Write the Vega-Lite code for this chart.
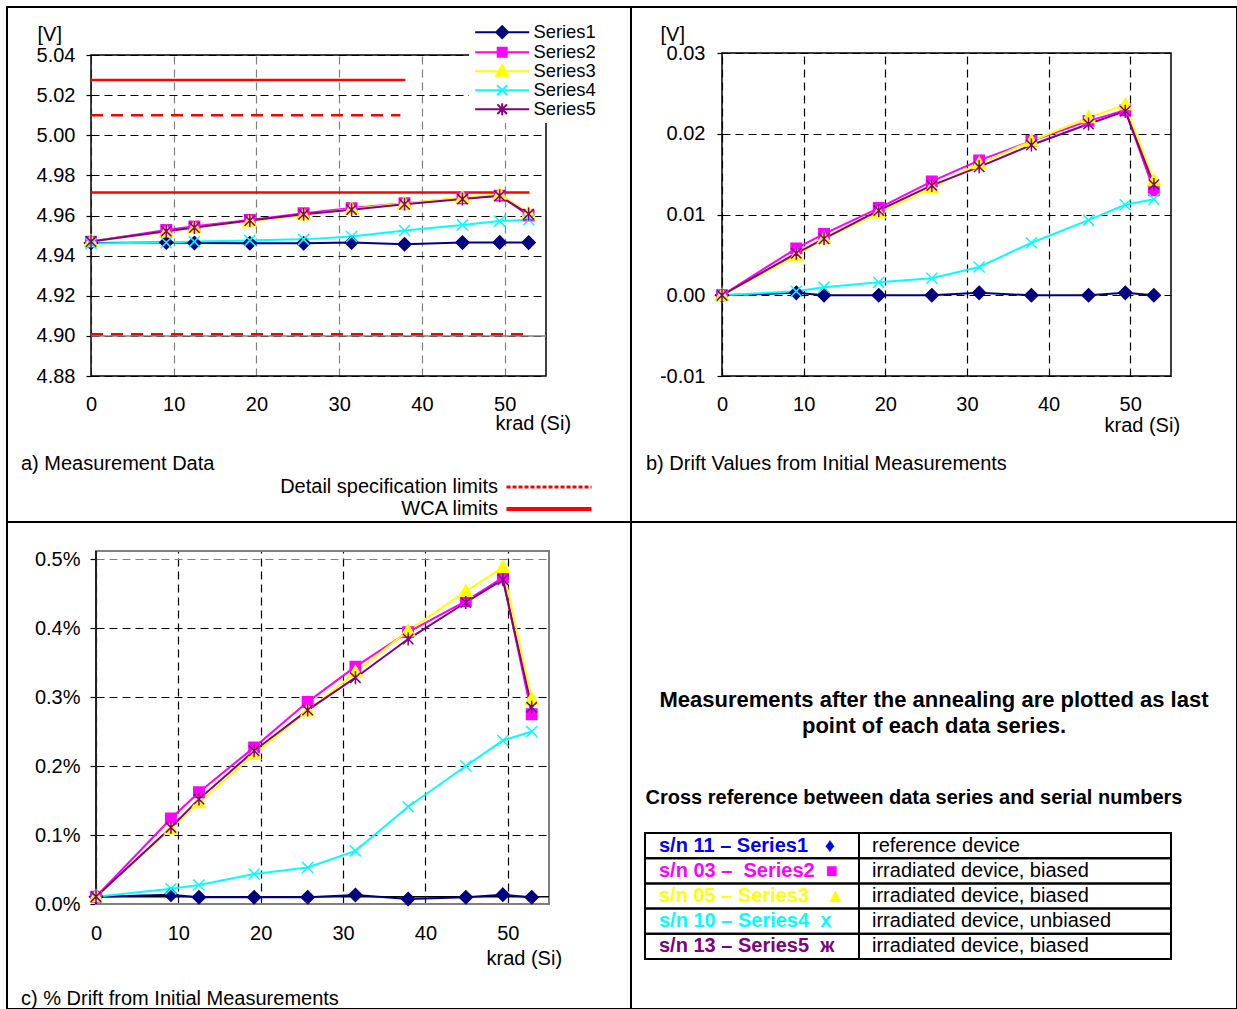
{
  "$schema": "https://vega.github.io/schema/vega-lite/v6.json",
  "padding": {"left": 6, "top": 6, "right": 0, "bottom": 0},
  "background": "white",
  "config": {
    "font": "Liberation Sans",
    "view": {"stroke": "black", "strokeWidth": 2},
    "axis": {"labelFont": "Liberation Sans", "labelFontSize": 20, "labelColor": "black", "titleFont": "Liberation Sans", "titleFontSize": 20, "titleFontWeight": "normal", "titleColor": "black", "domain": false, "tickColor": "black", "tickWidth": 1.2, "gridDash": [8, 5], "gridWidth": 1.2, "labelFlush": false, "labelOverlap": false},
    "title": {"font": "Liberation Sans", "fontSize": 20, "fontWeight": "normal", "color": "black"},
    "legend": {"labelFont": "Liberation Sans", "labelFontSize": 20, "labelColor": "black"}
  },
  "datasets": {
    "pts": [
      {"krad":0,"series":"Series1","v":4.9463,"d":0,"p":0.000106},
      {"krad":9.1,"series":"Series1","v":4.9466,"d":0.0003,"p":0.000135},
      {"krad":12.5,"series":"Series1","v":4.9463,"d":0,"p":0.000097},
      {"krad":19.2,"series":"Series1","v":4.9462,"d":0,"p":0.000097},
      {"krad":25.7,"series":"Series1","v":4.9462,"d":0,"p":0.000097},
      {"krad":31.5,"series":"Series1","v":4.9466,"d":0.0003,"p":0.00013},
      {"krad":37.9,"series":"Series1","v":4.9457,"d":0,"p":0.000072},
      {"krad":44.9,"series":"Series1","v":4.9465,"d":0,"p":0.000097},
      {"krad":49.4,"series":"Series1","v":4.9466,"d":0.0003,"p":0.000135},
      {"krad":52.9,"series":"Series1","v":4.9465,"d":0,"p":0.000097},
      {"krad":0,"series":"Series2","v":4.947,"d":0,"p":0.000106},
      {"krad":9.1,"series":"Series2","v":4.9528,"d":0.0058,"p":0.00124},
      {"krad":12.5,"series":"Series2","v":4.9546,"d":0.0076,"p":0.00162},
      {"krad":19.2,"series":"Series2","v":4.9578,"d":0.0108,"p":0.00227},
      {"krad":25.7,"series":"Series2","v":4.9611,"d":0.0141,"p":0.00293},
      {"krad":31.5,"series":"Series2","v":4.9637,"d":0.0167,"p":0.00344},
      {"krad":37.9,"series":"Series2","v":4.9661,"d":0.0191,"p":0.00394},
      {"krad":44.9,"series":"Series2","v":4.9686,"d":0.0216,"p":0.00439},
      {"krad":49.4,"series":"Series2","v":4.9699,"d":0.0229,"p":0.00473},
      {"krad":52.9,"series":"Series2","v":4.96,"d":0.013,"p":0.00275},
      {"krad":0,"series":"Series3","v":4.947,"d":0,"p":0.000106},
      {"krad":9.1,"series":"Series3","v":4.9519,"d":0.0049,"p":0.00109},
      {"krad":12.5,"series":"Series3","v":4.954,"d":0.007,"p":0.00147},
      {"krad":19.2,"series":"Series3","v":4.9572,"d":0.0102,"p":0.00217},
      {"krad":25.7,"series":"Series3","v":4.9603,"d":0.0133,"p":0.0028},
      {"krad":31.5,"series":"Series3","v":4.9633,"d":0.0163,"p":0.00336},
      {"krad":37.9,"series":"Series3","v":4.9661,"d":0.0191,"p":0.00396},
      {"krad":44.9,"series":"Series3","v":4.969,"d":0.022,"p":0.00453},
      {"krad":49.4,"series":"Series3","v":4.9706,"d":0.0236,"p":0.00488},
      {"krad":52.9,"series":"Series3","v":4.9612,"d":0.0142,"p":0.00297},
      {"krad":0,"series":"Series4","v":4.946,"d":0,"p":0.000106},
      {"krad":9.1,"series":"Series4","v":4.9465,"d":0.0005,"p":0.00022},
      {"krad":12.5,"series":"Series4","v":4.947,"d":0.001,"p":0.000275},
      {"krad":19.2,"series":"Series4","v":4.9476,"d":0.0016,"p":0.000435},
      {"krad":25.7,"series":"Series4","v":4.9481,"d":0.0021,"p":0.00053},
      {"krad":31.5,"series":"Series4","v":4.9495,"d":0.0035,"p":0.00077},
      {"krad":37.9,"series":"Series4","v":4.9525,"d":0.0065,"p":0.00141},
      {"krad":44.9,"series":"Series4","v":4.9553,"d":0.0093,"p":0.002},
      {"krad":49.4,"series":"Series4","v":4.9572,"d":0.0112,"p":0.00237},
      {"krad":52.9,"series":"Series4","v":4.9579,"d":0.0119,"p":0.0025},
      {"krad":0,"series":"Series5","v":4.947,"d":0,"p":0.000106},
      {"krad":9.1,"series":"Series5","v":4.9522,"d":0.0052,"p":0.00111},
      {"krad":12.5,"series":"Series5","v":4.954,"d":0.007,"p":0.00152},
      {"krad":19.2,"series":"Series5","v":4.9575,"d":0.0105,"p":0.00222},
      {"krad":25.7,"series":"Series5","v":4.9606,"d":0.0136,"p":0.00281},
      {"krad":31.5,"series":"Series5","v":4.9629,"d":0.0159,"p":0.00328},
      {"krad":37.9,"series":"Series5","v":4.9656,"d":0.0186,"p":0.00384},
      {"krad":44.9,"series":"Series5","v":4.9682,"d":0.0212,"p":0.00437},
      {"krad":49.4,"series":"Series5","v":4.9698,"d":0.0228,"p":0.0047},
      {"krad":52.9,"series":"Series5","v":4.9607,"d":0.0137,"p":0.00285}
    ],
    "limits": [
      {"limit":"WCA limits","level":5.0275,"from":0,"to":38},
      {"limit":"Detail specification limits","level":5.01,"from":0,"to":37.4},
      {"limit":"WCA limits","level":4.9715,"from":0,"to":53},
      {"limit":"Detail specification limits","level":4.9008,"from":0,"to":52.6}
    ],
    "table": [
      {"series":"Series1","sn":"s/n 11 – Series1\u00a0\u00a0\u00a0♦","desc":"reference device"},
      {"series":"Series2","sn":"s/n 03 –\u00a0\u00a0Series2\u00a0\u00a0■","desc":"irradiated device, biased"},
      {"series":"Series3","sn":"s/n 05 – Series3\u00a0\u00a0\u00a0▲","desc":"irradiated device, biased"},
      {"series":"Series4","sn":"s/n 10 – Series4\u00a0\u00a0x","desc":"irradiated device, unbiased"},
      {"series":"Series5","sn":"s/n 13 – Series5\u00a0\u00a0ж","desc":"irradiated device, biased"}
    ]
  },
  "columns": 2,
  "spacing": 0,
  "bounds": "flush",
  "align": "each",
  "concat": [
    {
      "width": 624, "height": 515,
      "title": {"text": "a) Measurement Data", "orient": "bottom", "anchor": "start", "frame": "group", "offset": -68, "dx": 14},
      "layer": [
        {
          "data": {"values": [{}]},
          "mark": {"type": "rect", "filled": false, "color": "black", "strokeWidth": 1.5},
          "encoding": {
            "x": {"datum": 0, "type": "quantitative", "title": "krad (Si)", "scale": {"domain": [0, 55], "range": [84, 539], "nice": false, "zero": false},
                  "axis": {"values": [0,10,20,30,40,50], "orient": "top", "offset": -369, "grid": true, "ticks": false, "labelPadding": -18, "labelBaseline": "top", "gridColor": "#808080", "titleX": 488, "titleY": 47, "titleAlign": "left", "titleBaseline": "middle", "titleAngle": 0}},
            "x2": {"datum": 55},
            "y": {"datum": 4.88, "type": "quantitative", "title": "[V]", "scale": {"domain": [4.88, 5.04], "range": [369, 48], "nice": false, "zero": false},
                  "axis": {"values": [4.88,4.89,4.9,4.91,4.92,4.93,4.94,4.95,4.96,4.97,4.98,4.99,5.0,5.01,5.02,5.03,5.04], "offset": -84, "grid": true, "tickSize": 5, "labelPadding": 11,
                           "labelExpr": "round(datum.value*100) % 2 == 0 ? format(datum.value, '.2f') : ''",
                           "gridOpacity": {"condition": {"test": "round(datum.value*100) % 2 == 1", "value": 0}, "value": 1},
                           "gridColor": "black", "titleAngle": 0, "titleX": -54, "titleY": 33, "titleAlign": "left", "titleBaseline": "alphabetic"}},
            "y2": {"datum": 5.04}
          }
        },
        {
          "data": {"values": [{}]},
          "mark": {"type": "rule", "color": "#808080", "strokeWidth": 1.5},
          "encoding": {"x": {"datum": 0, "type": "quantitative", "title": "krad (Si)"}, "x2": {"datum": 55}, "y": {"datum": 4.9, "type": "quantitative", "title": "[V]"}}
        },
        {
          "data": {"name": "limits"},
          "transform": [{"filter": "datum.limit == 'WCA limits'"}],
          "mark": {"type": "rule", "color": "#ff0000", "strokeWidth": 2.5},
          "encoding": {
            "x": {"field": "from", "type": "quantitative", "title": "krad (Si)"},
            "x2": {"field": "to"},
            "y": {"field": "level", "type": "quantitative", "title": "[V]"}
          }
        },
        {
          "data": {"name": "limits"},
          "transform": [{"filter": "datum.limit == 'Detail specification limits'"}],
          "mark": {"type": "rule", "color": "#ff0000", "strokeWidth": 2.5, "strokeDash": [12, 8]},
          "encoding": {
            "x": {"field": "from", "type": "quantitative", "title": "krad (Si)"},
            "x2": {"field": "to"},
            "y": {"field": "level", "type": "quantitative", "title": "[V]"}
          }
        },
        {
          "data": {"name": "limits"},
          "transform": [{"filter": "false"}],
          "mark": {"type": "rule", "color": "#ff0000", "strokeWidth": 3},
          "encoding": {
            "x": {"field": "from", "type": "quantitative", "title": "krad (Si)"},
            "x2": {"field": "to"},
            "y": {"field": "level", "type": "quantitative", "title": "[V]"},
            "strokeDash": {"field": "limit", "type": "nominal",
              "scale": {"domain": ["Detail specification limits", "WCA limits"], "range": [[4, 2], [1, 0]]},
              "legend": {"orient": "none", "legendX": 532, "legendY": 470, "title": null, "direction": "vertical", "symbolType": "stroke", "symbolSize": 7225, "symbolStrokeColor": "#ff0000", "symbolStrokeWidth": 3, "labelAlign": "right", "labelOffset": -61, "labelLimit": 400, "labelFontSize": 20, "rowPadding": 2, "padding": 0,
                "encode": {"symbols": {"update": {"strokeWidth": {"signal": "datum.label == 'WCA limits' ? 4 : 3"}}}}}}
          }
        },
        {
          "data": {"name": "pts"},
          "mark": {"type": "line", "strokeWidth": 2},
          "encoding": {
            "x": {"field": "krad", "type": "quantitative", "title": "krad (Si)"},
            "y": {"field": "v", "type": "quantitative", "title": "[V]"},
            "stroke": {"field": "series", "type": "nominal", "legend": null, "scale": {"domain": ["Series1","Series2","Series3","Series4","Series5"], "range": ["#000080","#ff00ff","#ffff00","#00ffff","#800080"]}}
          }
        },
        {
          "data": {"name": "pts"},
          "mark": {"type": "point", "filled": true, "size": 169, "strokeWidth": 1.5, "opacity": 1},
          "encoding": {
            "x": {"field": "krad", "type": "quantitative", "title": "krad (Si)"},
            "y": {"field": "v", "type": "quantitative", "title": "[V]"},
            "fill": {"field": "series", "type": "nominal", "legend": null, "scale": {"domain": ["Series1","Series2","Series3","Series4","Series5"], "range": ["#000080","#ff00ff","#ffff00","#00ffff","#800080"]}},
            "stroke": {"field": "series", "type": "nominal", "legend": null, "scale": {"domain": ["Series1","Series2","Series3","Series4","Series5"], "range": ["#000080","#ff00ff","#ffff00","#00ffff","#800080"]}},
            "shape": {"field": "series", "type": "nominal", "legend": null, "scale": {"domain": ["Series1","Series2","Series3","Series4","Series5"], "range": ["M0,-1L1,0L0,1L-1,0Z","M-0.8,-0.8H0.8V0.8H-0.8Z","M0,-1L1,0.75H-1Z","M-0.85,-0.85L0.85,0.85M-0.85,0.85L0.85,-0.85","M-0.8,-0.8L0.8,0.8M-0.8,0.8L0.8,-0.8M0,-1V1"]}}
          }
        },
        {
          "data": {"name": "pts"},
          "transform": [{"filter": "false"}],
          "mark": {"type": "point", "filled": true, "size": 144, "strokeWidth": 2, "opacity": 1},
          "encoding": {
            "x": {"field": "krad", "type": "quantitative", "title": "krad (Si)"},
            "y": {"field": "v", "type": "quantitative", "title": "[V]"},
            "fill": {"field": "series", "type": "nominal", "scale": {"domain": ["Series1","Series2","Series3","Series4","Series5"], "range": ["#000080","#ff00ff","#ffff00","#00ffff","#800080"]},
              "legend": {"orient": "none", "legendX": 462, "legendY": 13, "title": null, "symbolSize": 144, "symbolStrokeWidth": 2, "symbolOpacity": 1, "symbolOffset": 21, "labelOffset": 22, "labelFontSize": 18.4, "rowPadding": -3, "fillColor": "white", "padding": 3}},
            "stroke": {"field": "series", "type": "nominal", "scale": {"domain": ["Series1","Series2","Series3","Series4","Series5"], "range": ["#000080","#ff00ff","#ffff00","#00ffff","#800080"]},
              "legend": {"orient": "none", "legendX": 462, "legendY": 13, "title": null, "symbolSize": 144, "symbolStrokeWidth": 2, "symbolOpacity": 1, "symbolOffset": 21, "labelOffset": 22, "labelFontSize": 18.4, "rowPadding": -3, "fillColor": "white", "padding": 3}},
            "shape": {"field": "series", "type": "nominal", "scale": {"domain": ["Series1","Series2","Series3","Series4","Series5"], "range": ["M-4.5,0H4.5M0,-1L1,0L0,1L-1,0Z","M-4.5,0H4.5M-0.75,-0.75H0.75V0.75H-0.75Z","M-4.5,0H4.5M0,-1L1,0.75H-1Z","M-4.5,0H4.5M-0.85,-0.85L0.85,0.85M-0.85,0.85L0.85,-0.85","M-4.5,0H4.5M-0.8,-0.8L0.8,0.8M-0.8,0.8L0.8,-0.8M0,-1V1"]},
              "legend": {"orient": "none", "legendX": 462, "legendY": 13, "title": null, "symbolSize": 144, "symbolStrokeWidth": 2, "symbolOpacity": 1, "symbolOffset": 21, "labelOffset": 22, "labelFontSize": 18.4, "rowPadding": -3, "fillColor": "white", "padding": 3}}
          }
        }
      ],
      "resolve": {"scale": {"fill": "independent", "stroke": "independent", "shape": "independent"}}
    },
    {
      "width": 606, "height": 515,
      "title": {"text": "b) Drift Values from Initial Measurements", "orient": "bottom", "anchor": "start", "frame": "group", "offset": -68, "dx": 15},
      "layer": [
        {
          "data": {"values": [{}]},
          "mark": {"type": "rect", "filled": false, "color": "black", "strokeWidth": 1.5},
          "encoding": {
            "x": {"datum": 0, "type": "quantitative", "title": "krad (Si)", "scale": {"domain": [0, 55], "range": [91, 540], "nice": false, "zero": false},
                  "axis": {"values": [0,10,20,30,40,50], "orient": "top", "offset": -369, "grid": true, "ticks": false, "labelPadding": -18, "labelBaseline": "top", "gridColor": "black", "titleX": 473, "titleY": 49, "titleAlign": "left", "titleBaseline": "middle", "titleAngle": 0}},
            "x2": {"datum": 55},
            "y": {"datum": -0.01, "type": "quantitative", "title": "[V]", "scale": {"domain": [-0.01, 0.03], "range": [369, 46], "nice": false, "zero": false},
                  "axis": {"values": [-0.01, 0, 0.01, 0.02, 0.03], "offset": -91, "grid": true, "tickSize": 5, "labelPadding": 12,
                           "labelExpr": "replace(format(datum.value, '.2f'), '\u2212', '-')",
                           "gridColor": "black", "titleAngle": 0, "titleX": -62, "titleY": 33, "titleAlign": "left", "titleBaseline": "alphabetic"}},
            "y2": {"datum": 0.03}
          }
        },
        {
          "data": {"name": "pts"},
          "mark": {"type": "line", "strokeWidth": 2},
          "encoding": {
            "x": {"field": "krad", "type": "quantitative", "title": "krad (Si)"},
            "y": {"field": "d", "type": "quantitative", "title": "[V]"},
            "stroke": {"field": "series", "type": "nominal", "legend": null, "scale": {"domain": ["Series1","Series2","Series3","Series4","Series5"], "range": ["#000080","#ff00ff","#ffff00","#00ffff","#800080"]}}
          }
        },
        {
          "data": {"name": "pts"},
          "mark": {"type": "point", "filled": true, "size": 169, "strokeWidth": 1.5, "opacity": 1},
          "encoding": {
            "x": {"field": "krad", "type": "quantitative", "title": "krad (Si)"},
            "y": {"field": "d", "type": "quantitative", "title": "[V]"},
            "fill": {"field": "series", "type": "nominal", "legend": null, "scale": {"domain": ["Series1","Series2","Series3","Series4","Series5"], "range": ["#000080","#ff00ff","#ffff00","#00ffff","#800080"]}},
            "stroke": {"field": "series", "type": "nominal", "legend": null},
            "shape": {"field": "series", "type": "nominal", "legend": null, "scale": {"domain": ["Series1","Series2","Series3","Series4","Series5"], "range": ["M0,-1L1,0L0,1L-1,0Z","M-0.8,-0.8H0.8V0.8H-0.8Z","M0,-1L1,0.75H-1Z","M-0.85,-0.85L0.85,0.85M-0.85,0.85L0.85,-0.85","M-0.8,-0.8L0.8,0.8M-0.8,0.8L0.8,-0.8M0,-1V1"]}}
          }
        }
      ]
    },
    {
      "width": 624, "height": 487,
      "title": {"text": "c) % Drift from Initial Measurements", "orient": "bottom", "anchor": "start", "frame": "group", "offset": -20, "dx": 14},
      "layer": [
        {
          "data": {"values": [{}]},
          "mark": {"type": "rect", "filled": false, "color": "#808080", "strokeWidth": 2},
          "encoding": {
            "x": {"datum": 0, "type": "quantitative", "title": "krad (Si)", "scale": {"domain": [0, 55], "range": [89, 542], "nice": false, "zero": false},
                  "axis": {"values": [0,10,20,30,40,50], "orient": "top", "offset": -382, "grid": true, "ticks": false, "labelPadding": -19, "labelBaseline": "top", "gridColor": "black", "titleX": 479, "titleY": 54, "titleAlign": "left", "titleBaseline": "middle", "titleAngle": 0}},
            "x2": {"datum": 55},
            "y": {"datum": 0, "type": "quantitative", "title": null, "scale": {"domain": [0, 0.005116], "range": [382, 29], "nice": false, "zero": false},
                  "axis": {"values": [0, 0.001, 0.002, 0.003, 0.004, 0.005], "offset": -89, "grid": true, "tickSize": 6, "labelPadding": 10, "format": ".1%",
                           "gridColor": {"condition": {"test": "datum.value > 0.0045", "value": "#808080"}, "value": "black"}}},
            "y2": {"datum": 0.005116}
          }
        },
        {
          "data": {"values": [{}]},
          "mark": {"type": "rule", "color": "black", "strokeWidth": 1.5},
          "encoding": {"x": {"datum": 0, "type": "quantitative", "title": "krad (Si)"}, "y": {"datum": 0, "type": "quantitative", "title": null}, "y2": {"datum": 0.005116}}
        },
        {
          "data": {"values": [{}]},
          "mark": {"type": "rule", "color": "black", "strokeWidth": 1.5},
          "encoding": {"x": {"datum": 0, "type": "quantitative", "title": "krad (Si)"}, "x2": {"datum": 55}, "y": {"datum": 0.000106, "type": "quantitative", "title": null}}
        },
        {
          "data": {"name": "pts"},
          "mark": {"type": "line", "strokeWidth": 2},
          "encoding": {
            "x": {"field": "krad", "type": "quantitative", "title": "krad (Si)"},
            "y": {"field": "p", "type": "quantitative", "title": null},
            "stroke": {"field": "series", "type": "nominal", "legend": null, "scale": {"domain": ["Series1","Series2","Series3","Series4","Series5"], "range": ["#000080","#ff00ff","#ffff00","#00ffff","#800080"]}}
          }
        },
        {
          "data": {"name": "pts"},
          "mark": {"type": "point", "filled": true, "size": 169, "strokeWidth": 1.5, "opacity": 1},
          "encoding": {
            "x": {"field": "krad", "type": "quantitative", "title": "krad (Si)"},
            "y": {"field": "p", "type": "quantitative", "title": null},
            "fill": {"field": "series", "type": "nominal", "legend": null, "scale": {"domain": ["Series1","Series2","Series3","Series4","Series5"], "range": ["#000080","#ff00ff","#ffff00","#00ffff","#800080"]}},
            "stroke": {"field": "series", "type": "nominal", "legend": null},
            "shape": {"field": "series", "type": "nominal", "legend": null, "scale": {"domain": ["Series1","Series2","Series3","Series4","Series5"], "range": ["M0,-1L1,0L0,1L-1,0Z","M-0.8,-0.8H0.8V0.8H-0.8Z","M0,-1L1,0.75H-1Z","M-0.85,-0.85L0.85,0.85M-0.85,0.85L0.85,-0.85","M-0.8,-0.8L0.8,0.8M-0.8,0.8L0.8,-0.8M0,-1V1"]}}
          }
        }
      ]
    },
    {
      "width": 606, "height": 487,
      "title": {"text": ["Measurements after the annealing are plotted as last", "point of each data series."], "orient": "top", "anchor": "middle", "frame": "group", "offset": -216, "fontSize": 22, "fontWeight": "bold", "lineHeight": 26},
      "layer": [
        {
          "data": {"name": "table"},
          "mark": {"type": "rect", "filled": false, "color": "black", "strokeWidth": 2},
          "encoding": {
            "y": {"field": "series", "type": "nominal", "sort": null, "title": "Cross reference between data series and serial numbers",
                  "scale": {"domain": ["Series1","Series2","Series3","Series4","Series5"], "range": [311, 437], "paddingInner": 0, "paddingOuter": 0},
                  "axis": {"orient": "left", "labels": false, "ticks": false, "domain": false, "grid": false, "titleAngle": 0, "titleAlign": "left", "titleBaseline": "middle", "titleX": 14, "titleY": 275, "titleFontWeight": "bold", "titleFontSize": 20}},
            "x": {"datum": "sn", "type": "nominal", "scale": {"domain": ["sn"], "range": [14, 228], "paddingInner": 0, "paddingOuter": 0}, "axis": null}
          }
        },
        {
          "data": {"name": "table"},
          "mark": {"type": "text", "align": "left", "baseline": "middle", "dx": -93, "fontWeight": "bold", "fontSize": 20},
          "encoding": {
            "y": {"field": "series", "type": "nominal", "sort": null, "title": "Cross reference between data series and serial numbers"},
            "x": {"datum": "sn", "type": "nominal", "scale": {"domain": ["sn"], "range": [14, 228], "paddingInner": 0, "paddingOuter": 0}, "axis": null},
            "text": {"field": "sn"},
            "color": {"field": "series", "type": "nominal", "legend": null, "scale": {"domain": ["Series1","Series2","Series3","Series4","Series5"], "range": ["#0000ff","#ff00ff","#ffff00","#00ffff","#800080"]}}
          }
        },
        {
          "data": {"name": "table"},
          "mark": {"type": "rect", "filled": false, "color": "black", "strokeWidth": 2},
          "encoding": {
            "y": {"field": "series", "type": "nominal", "sort": null, "title": "Cross reference between data series and serial numbers"},
            "x": {"datum": "desc", "type": "nominal", "scale": {"domain": ["desc"], "range": [228, 540], "paddingInner": 0, "paddingOuter": 0}, "axis": null}
          }
        },
        {
          "data": {"name": "table"},
          "mark": {"type": "text", "align": "left", "baseline": "middle", "dx": -143, "fontSize": 20, "color": "black"},
          "encoding": {
            "y": {"field": "series", "type": "nominal", "sort": null, "title": "Cross reference between data series and serial numbers"},
            "x": {"datum": "desc", "type": "nominal", "scale": {"domain": ["desc"], "range": [228, 540], "paddingInner": 0, "paddingOuter": 0}, "axis": null},
            "text": {"field": "desc"}
          }
        }
      ],
      "resolve": {"scale": {"x": "independent"}}
    }
  ]
}
